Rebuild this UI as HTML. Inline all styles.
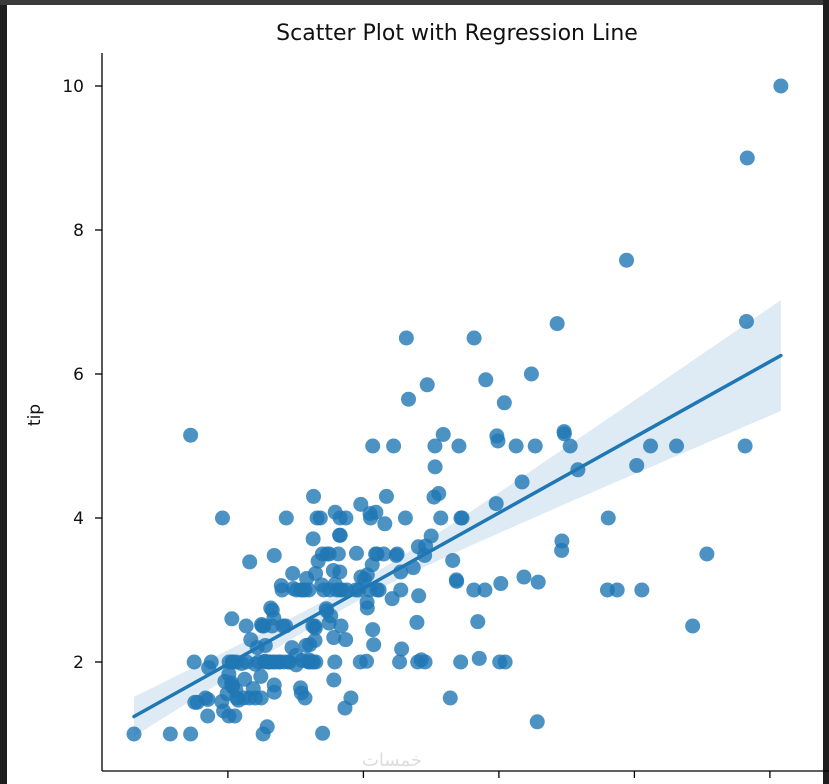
<!DOCTYPE html>
<html><head><meta charset="utf-8"><style>
body{margin:0;background:#fff;width:829px;height:784px;overflow:hidden;font-family:"DejaVu Sans","Liberation Sans","Noto Sans CJK SC",sans-serif;}
svg{display:block}
</style></head><body>
<svg id="chart" width="829" height="784" xmlns="http://www.w3.org/2000/svg">
<rect x="0" y="0" width="829" height="784" fill="#fff"/>
<rect x="0" y="0" width="7" height="784" fill="#1e1e1e"/>
<rect x="0" y="0" width="829" height="5" fill="#3a3a3a"/>
<rect x="823" y="0" width="6" height="784" fill="#1e1e1e"/>
<text x="457" y="40" text-anchor="middle" font-size="22" fill="#111">Scatter Plot with Regression Line</text>
<text transform="translate(40,415) rotate(-90)" text-anchor="middle" font-size="17" fill="#111">tip</text>
<g id="band"></g>
<g id="points"></g>
<g id="reg"></g>
<g id="axes"></g>
<text x="392" y="766" text-anchor="middle" font-size="18" fill="#ddd">خمسات</text>
</svg>
<script>
const totalBill=[16.99,10.34,21.01,23.68,24.59,25.29,8.77,26.88,15.04,14.78,10.27,35.26,15.42,18.43,14.83,21.58,10.33,16.29,16.97,20.65,17.92,20.29,15.77,39.42,19.82,17.81,13.37,12.69,21.7,19.65,9.55,18.35,15.06,20.69,17.78,24.06,16.31,16.93,18.69,31.27,16.04,17.46,13.94,9.68,30.4,18.29,22.23,32.4,28.55,18.04,12.54,10.29,34.81,9.94,25.56,19.49,38.01,26.41,11.24,48.27,20.29,13.81,11.02,18.29,17.59,20.08,16.45,3.07,20.23,15.01,12.02,17.07,26.86,25.28,14.73,10.51,17.92,27.2,22.76,17.29,19.44,16.66,10.07,32.68,15.98,34.83,13.03,18.28,24.71,21.16,28.97,22.49,5.75,16.32,22.75,40.17,27.28,12.03,21.01,12.46,11.35,15.38,44.3,22.42,20.92,15.36,20.49,25.21,18.24,14.31,14.0,7.25,38.07,23.95,25.71,17.31,29.93,10.65,12.43,24.08,11.69,13.42,14.26,15.95,12.48,29.8,8.52,14.52,11.38,22.82,19.08,20.27,11.17,12.26,18.26,8.51,10.33,14.15,16.0,13.16,17.47,34.3,41.19,27.05,16.43,8.35,18.64,11.87,9.78,7.51,14.07,13.13,17.26,24.55,19.77,29.85,48.17,25.0,13.39,16.49,21.5,12.66,16.21,13.81,17.51,24.52,20.76,31.71,10.59,10.63,50.81,15.81,7.25,31.85,16.82,32.9,17.89,14.48,9.6,34.63,34.65,23.33,45.35,23.17,40.55,20.69,20.9,30.46,18.15,23.1,15.69,19.81,28.44,15.48,16.58,7.56,10.34,43.11,13.0,13.51,18.71,12.74,13.0,16.4,20.53,16.47,26.59,38.73,24.27,12.76,30.06,25.89,48.33,13.27,28.17,12.9,28.15,11.59,7.74,30.14,12.16,13.42,8.58,15.98,13.42,16.27,10.09,20.45,13.28,22.12,24.01,15.69,11.61,10.77,15.53,10.07,12.6,32.83,35.83,29.03,27.18,22.67,17.82,18.78];
const tips=[1.01,1.66,3.5,3.31,3.61,4.71,2.0,3.12,1.96,3.23,1.71,5.0,1.57,3.0,3.02,3.92,1.67,3.71,3.5,3.35,4.08,2.75,2.23,7.58,3.18,2.34,2.0,2.0,4.3,3.0,1.45,2.5,3.0,2.45,3.27,3.6,2.0,3.07,2.31,5.0,2.24,2.54,3.06,1.32,5.6,3.0,5.0,6.0,2.05,3.0,2.5,2.6,5.2,1.56,4.34,3.51,3.0,1.5,1.76,6.73,3.21,2.0,1.98,3.76,2.64,3.15,2.47,1.0,2.01,2.09,1.97,3.0,3.14,5.0,2.2,1.25,3.08,4.0,3.0,2.71,3.0,3.4,1.83,5.0,2.03,5.17,2.0,4.0,5.85,3.0,3.0,3.5,1.0,4.3,3.25,4.73,4.0,1.5,3.0,1.5,2.5,3.0,2.5,3.48,4.08,1.64,4.06,4.29,3.76,4.0,3.0,1.0,4.0,2.55,4.0,3.5,5.07,1.5,1.8,2.92,2.31,1.68,2.5,2.0,2.52,4.2,1.48,2.0,2.0,2.18,1.5,2.83,1.5,2.0,3.25,1.25,2.0,2.0,2.0,2.75,3.5,6.7,5.0,5.0,2.3,1.5,1.36,1.63,1.73,2.0,2.5,2.0,2.74,2.0,2.0,5.14,5.0,3.75,2.61,2.0,3.5,2.5,2.0,2.0,3.0,3.48,2.24,4.5,1.61,2.0,10.0,3.16,5.15,3.18,4.0,3.11,2.0,2.0,4.0,3.55,3.68,5.65,3.5,6.5,3.0,5.0,3.5,2.0,3.5,4.0,1.5,4.19,2.56,2.02,4.0,1.44,2.0,5.0,2.0,2.0,4.0,2.01,2.0,2.5,4.0,3.23,3.41,3.0,2.03,2.23,2.0,5.16,9.0,2.5,6.5,1.1,3.0,1.5,1.44,3.09,2.2,3.48,1.92,3.0,1.58,2.5,2.0,3.0,2.72,2.88,2.0,3.0,3.39,1.47,3.0,1.25,1.0,1.17,4.67,5.92,2.0,2.0,1.75,3.0];
const yTicks=[2,4,6,8,10];
const xTicks=[10,20,30,40,50];

const NS="http://www.w3.org/2000/svg";
const xs=v=>92.4+(v)*13.55;
const ys=v=>734-(v-1)*72;
function mk(tag,attrs,parent){const e=document.createElementNS(NS,tag);for(const k in attrs)e.setAttribute(k,attrs[k]);parent.appendChild(e);return e;}

const n=totalBill.length;
const mx=totalBill.reduce((a,b)=>a+b,0)/n, my=tips.reduce((a,b)=>a+b,0)/n;
let sxx=0,sxy=0;for(let i=0;i<n;i++){sxx+=(totalBill[i]-mx)**2;sxy+=(totalBill[i]-mx)*(tips[i]-my);}
const b=sxy/sxx,a=my-b*mx;
let sse=0;for(let i=0;i<n;i++)sse+=(tips[i]-a-b*totalBill[i])**2;
const s=Math.sqrt(sse/(n-2));
const xmin=Math.min(...totalBill),xmax=Math.max(...totalBill);
const up=[],lo=[];
for(let k=0;k<=60;k++){const x=xmin+(xmax-xmin)*k/60;const kk=x>mx?2.84:1;
 const h=1.97*s*Math.sqrt(1/n+kk*(x-mx)**2/sxx);const y=a+b*x;
 up.push(xs(x).toFixed(1)+","+ys(y+h).toFixed(1));lo.unshift(xs(x).toFixed(1)+","+ys(y-h).toFixed(1));}
const band=mk("polygon",{points:up.concat(lo).join(" "),fill:"#1f77b4","fill-opacity":"0.15"},document.getElementById("band"));



const pg=document.getElementById("points");
for(let i=0;i<n;i++){
 const c=mk("circle",{cx:xs(totalBill[i]),cy:ys(tips[i]),r:7.5,fill:"#1f77b4","fill-opacity":"0.8"},pg);
 
 
}
const ln=mk("line",{x1:xs(xmin),y1:ys(a+b*xmin),x2:xs(xmax),y2:ys(a+b*xmax),stroke:"#1f77b4","stroke-width":3.5,"stroke-linecap":"round"},document.getElementById("reg"));



const ax=document.getElementById("axes");
const yl=mk("line",{x1:102,y1:53,x2:102,y2:771,stroke:"#000","stroke-width":1.3},ax);


const xl=mk("line",{x1:102,y1:771,x2:829,y2:771,stroke:"#000","stroke-width":1.3},ax);


yTicks.forEach(t=>{
 const tk=mk("line",{x1:95,y1:ys(t),x2:102,y2:ys(t),stroke:"#000","stroke-width":1.3},ax);
 
 
 const tx=mk("text",{x:84,y:ys(t)+6,"text-anchor":"end","font-size":17,fill:"#111"},ax);
 tx.textContent=t;
 
 
});
xTicks.forEach(t=>{
 const tk=mk("line",{x1:xs(t),y1:771,x2:xs(t),y2:778,stroke:"#000","stroke-width":1.3},ax);
 
 
});
</script>
</body></html>
